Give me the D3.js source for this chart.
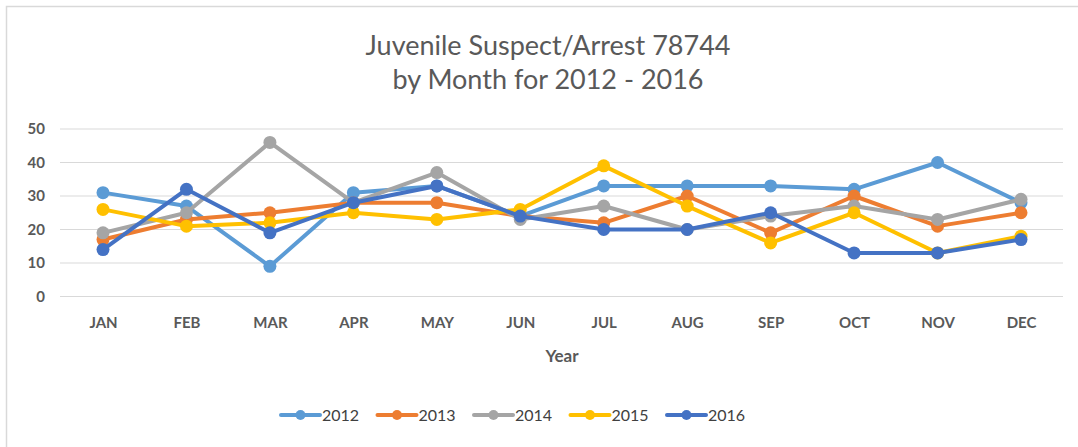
<!DOCTYPE html>
<html>
<head>
<meta charset="utf-8">
<script src="https://cdn.jsdelivr.net/npm/d3@7"></script>
<style>
  body { margin: 0; background: #fff; }
  text { font-family: Lato, "Open Sans", sans-serif; }
</style>
</head>
<body>
<script>
var months = ["JAN","FEB","MAR","APR","MAY","JUN","JUL","AUG","SEP","OCT","NOV","DEC"];
var years = ["2012","2013","2014","2015","2016"];
var colors = ["#5b9bd5","#ed7d31","#a5a5a5","#ffc000","#4472c4"];
var yTicks = [0,10,20,30,40,50];

var v2012 = [31,27,9,31,33,24,33,33,33,32,40,28];
var v2013 = [17,23,25,28,28,24,22,30,19,30,21,25];
var v2014 = [19,25,46,28,37,23,27,20,24,27,23,29];
var v2015 = [26,21,22,25,23,26,39,27,16,25,13,18];
var v2016 = [14,32,19,28,33,24,20,20,25,13,13,17];
var series = [v2012, v2013, v2014, v2015, v2016];

var w = 1078, h = 447;

var svg = d3.select("body").append("svg")
  .attr("width", w)
  .attr("height", h);

// chart border
svg.append("rect")
  .attr("x", 6.5).attr("y", 6.5)
  .attr("width", w + 20).attr("height", h + 20)
  .attr("fill", "#fff")
  .attr("stroke", "#d9d9d9")
  .attr("stroke-width", 1.5);

// title
svg.append("text")
  .attr("x", 548).attr("y", 55)
  .attr("text-anchor", "middle")
  .attr("font-size", 27)
  .attr("fill", "#595959")
  .text("Juvenile Suspect/Arrest 78744");
svg.append("text")
  .attr("x", 548).attr("y", 89)
  .attr("text-anchor", "middle")
  .attr("font-size", 27)
  .attr("fill", "#595959")
  .text("by Month for 2012 - 2016");

var xScale = d3.scalePoint()
  .domain(months)
  .range([103, 1021]);

var yScale = d3.scaleLinear()
  .domain([0, 50])
  .range([296.5, 129]);

// gridlines
svg.append("g")
  .selectAll("line")
  .data(yTicks)
  .enter()
  .append("line")
  .attr("x1", 60).attr("x2", 1063)
  .attr("y1", function(d) { return yScale(d); })
  .attr("y2", function(d) { return yScale(d); })
  .attr("stroke", "#d9d9d9")
  .attr("stroke-width", 1.2);

// y axis labels
var yAxis = svg.append("g")
  .attr("transform", "translate(50,0)")
  .call(d3.axisLeft(yScale).tickValues(yTicks).tickSize(0).tickPadding(5));
yAxis.select(".domain").remove();
yAxis.selectAll("text")
  .attr("font-size", 15)
  .attr("font-weight", "bold")
  .attr("fill", "#595959")
  .style("font-family", "Lato, sans-serif");

// x axis labels
var xAxis = svg.append("g")
  .attr("transform", "translate(0,317)")
  .call(d3.axisBottom(xScale).tickSize(0).tickPadding(0));
xAxis.select(".domain").remove();
xAxis.selectAll("text")
  .attr("font-size", 15)
  .attr("font-weight", "bold")
  .attr("fill", "#595959")
  .style("font-family", "Lato, sans-serif");

svg.append("text")
  .attr("x", 562).attr("y", 362)
  .attr("text-anchor", "middle")
  .attr("font-size", 17)
  .attr("font-weight", "bold")
  .attr("fill", "#595959")
  .text("Year");

var line = d3.line()
  .x(function(d, i) { return xScale(months[i]); })
  .y(function(d) { return yScale(d); });

series.forEach(function(s, k) {
  var g = svg.append("g");
  g.append("path")
    .datum(s)
    .attr("d", line)
    .attr("fill", "none")
    .attr("stroke", colors[k])
    .attr("stroke-width", 4)
    .attr("stroke-linejoin", "round");
  g.selectAll("circle")
    .data(s)
    .enter()
    .append("circle")
    .attr("cx", function(d, i) { return xScale(months[i]); })
    .attr("cy", function(d) { return yScale(d); })
    .attr("r", 6.5)
    .attr("fill", colors[k]);
});

// legend
var legend = svg.append("g").attr("transform", "translate(279,415)");
years.forEach(function(y, k) {
  var lx = k * 96.5;
  legend.append("line")
    .attr("x1", lx + 2).attr("x2", lx + 41)
    .attr("y1", 0).attr("y2", 0)
    .attr("stroke", colors[k])
    .attr("stroke-width", 4)
    .attr("stroke-linecap", "round");
  legend.append("circle")
    .attr("cx", lx + 21.5).attr("cy", 0)
    .attr("r", 5)
    .attr("fill", colors[k]);
  legend.append("text")
    .attr("x", lx + 43).attr("y", 6)
    .attr("font-size", 16)
    .attr("fill", "#404040")
    .text(y);
});
</script>
</body>
</html>
